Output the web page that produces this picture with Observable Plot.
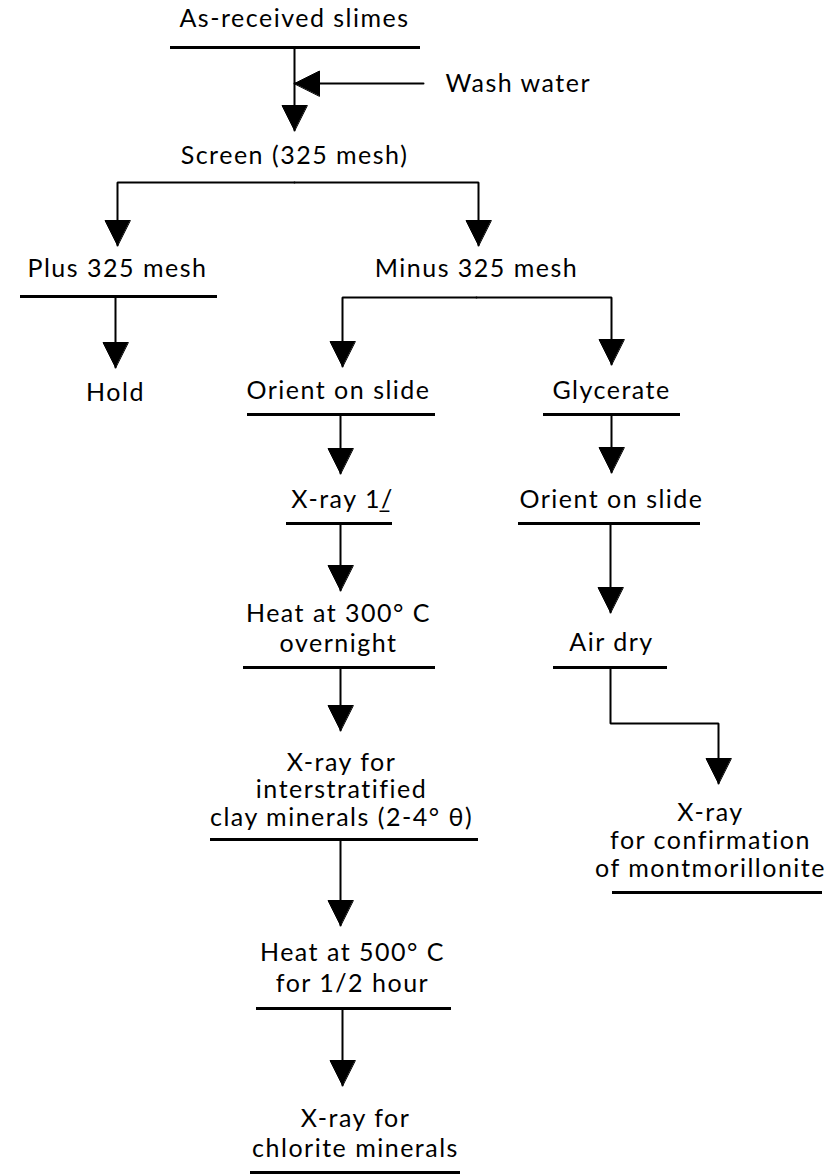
<!DOCTYPE html>
<html><head><meta charset="utf-8">
<script src="https://cdn.jsdelivr.net/npm/d3@7"></script>
<script src="https://cdn.jsdelivr.net/npm/@observablehq/plot@0.6"></script>
<style>
html,body{margin:0;padding:0;background:#fff;}
#chart svg{display:block;}
</style></head><body><div id="chart"></div>
<script>
// ---- flowchart content: step labels (one entry per text block) ----
const stepLines = [
  ["As-received slimes"],
  ["Screen (325 mesh)"],
  ["Plus 325 mesh"],
  ["Minus 325 mesh"],
  ["Hold"],
  ["Orient on slide"],
  ["Glycerate"],
  ["X-ray 1\u0332/"],
  ["Orient on slide"],
  ["Heat at 300\u00b0 C", "overnight"],
  ["Air dry"],
  ["X-ray for", "interstratified", "clay minerals (2-4\u00b0 \u03b8)"],
  ["X-ray", "for confirmation", "of montmorillonite"],
  ["Heat at 500\u00b0 C", "for 1/2 hour"],
  ["X-ray for", "chlorite minerals"]
];
// layout of each block in chart units (centre x, first line y, line step)
const stepX = [294, 294, 117, 476, 115, 338, 611, 342, 611, 338, 611, 341, 710, 352, 355];
const stepY = [18, 155, 268, 268, 392, 390, 390, 499, 499, 613, 642, 762, 812, 952, 1118];
const stepGap = [0, 0, 0, 0, 0, 0, 0, 0, 0, 30, 0, 27.5, 28, 31, 30];
// underline under each block (null = none)
const underY  = [47, null, 296, null, null, 414, 414, 523, 523, 667, 667, 839, 892, 1008, 1172];
const underX1 = [170, null, 20, null, null, 247, 543, 286, 518, 243, 553, 210, 612, 256, 250];
const underX2 = [420, null, 217, null, null, 435, 680, 392, 700, 435, 667, 478, 822, 451, 460];
// side input
const sideLabel = ["Wash water"];
const sideX = [445];
const sideY = [83];
// flow paths (waypoints), arrowhead at the last point
const flowPaths = [
  [[294, 47], [294, 130]],
  [[423, 83], [294, 83]],
  [[294, 182], [117, 182], [117, 245]],
  [[294, 182], [478, 182], [478, 245]],
  [[115, 296], [115, 367]],
  [[476, 297], [342, 297], [342, 366]],
  [[476, 297], [611, 297], [611, 364]],
  [[340, 414], [340, 473]],
  [[611, 414], [611, 472]],
  [[340, 523], [340, 590]],
  [[610, 523], [610, 612]],
  [[340, 667], [340, 730]],
  [[610, 667], [610, 723], [718, 723], [718, 783]],
  [[340, 839], [340, 925]],
  [[342, 1008], [342, 1085]]
];

// ---- derived tables ----
const textRows = [];
stepLines.forEach((lines, i) => lines.forEach((t, j) =>
  textRows.push({text: t, x: stepX[i], y: stepY[i] + j * stepGap[i]})));
const sideRows = sideLabel.map((t, i) => ({text: t, x: sideX[i], y: sideY[i]}));
const underRows = underY.map((y, i) => ({y, x1: underX1[i], x2: underX2[i]})).filter(d => d.y != null);
const pathRows = [];
flowPaths.forEach((p, id) => p.forEach(([x, y]) => pathRows.push({id, x, y})));
const headLen = 25, headHalf = 12.5;
const headRows = [];
flowPaths.forEach((p, id) => {
  const [tx, ty] = p[p.length - 1], [px, py] = p[p.length - 2];
  const L = Math.hypot(tx - px, ty - py), ux = (tx - px) / L, uy = (ty - py) / L;
  const bx = tx - ux * headLen, by = ty - uy * headLen;
  headRows.push({id, x: tx, y: ty});
  headRows.push({id, x: bx - uy * headHalf, y: by + ux * headHalf});
  headRows.push({id, x: bx + uy * headHalf, y: by - ux * headHalf});
});

const font = "Lato, 'Noto Sans', sans-serif";
const chart = Plot.plot({
  width: 827, height: 1174, margin: 0,
  x: {domain: [0, 827], range: [0, 827], axis: null},
  y: {domain: [0, 1174], range: [0, 1174], axis: null},
  style: "background: white; color: black; letter-spacing: 1.5px; font-family: Lato, 'Noto Sans', sans-serif;",
  marks: [
    Plot.line(pathRows, {x: "x", y: "y", z: "id", stroke: "black", strokeWidth: 2, strokeLinejoin: "miter"}),
    Plot.ruleY(underRows, {y: "y", x1: "x1", x2: "x2", stroke: "black", strokeWidth: 3}),
    Plot.line(headRows, {x: "x", y: "y", z: "id", fill: "black", stroke: "black", strokeWidth: 1, curve: "linear-closed"}),
    Plot.text(textRows, {x: "x", y: "y", text: "text", fontSize: 25, fontFamily: font, textAnchor: "middle", fill: "black"}),
    Plot.text(sideRows, {x: "x", y: "y", text: "text", fontSize: 25, fontFamily: font, textAnchor: "start", fill: "black"})
  ]
});
document.getElementById("chart").appendChild(chart);
</script></body></html>
